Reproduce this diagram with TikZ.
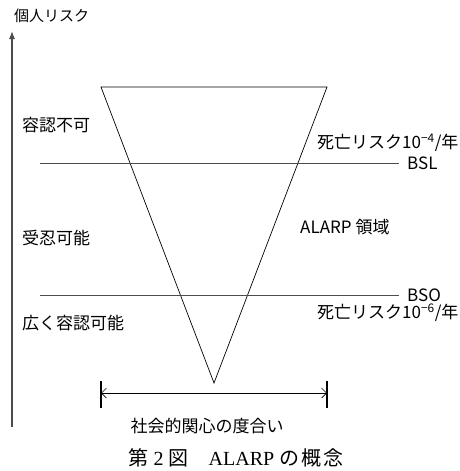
\documentclass[tikz,border=0pt]{standalone}
\usepackage{fontspec}
\setmainfont{Liberation Serif}
\newfontfamily\jp{Noto Sans CJK JP}
\usetikzlibrary{arrows.meta}
\tikzset{
  lbl/.style={font=\jp\fontsize{17}{19}\selectfont, inner sep=0pt},
  sidelbl/.style={lbl, anchor=west},
  level/.style={draw=black!70, line width=0.9pt},
  tri/.style={draw=black, line width=0.7pt},
  axis/.style={draw=black!70, line width=1.3pt, -{Latex[length=8pt,width=6pt]}},
  bar/.style={draw=black, line width=1.2pt},
  span/.style={draw=black, line width=0.6pt, {Straight Barb[length=5pt,width=10pt]}-{Straight Barb[length=5pt,width=10pt]}}
}
\begin{document}
\begin{tikzpicture}[x=1pt,y=-1pt]
\useasboundingbox (0,0) rectangle (459,471);
% axis
\coordinate (ab) at (12,427);
\coordinate (at) at (12,31);
\draw[axis] (ab) -- (at);
\node[sidelbl, font=\jp\fontsize{15}{17}\selectfont] (title) at (14,16) {個人リスク};
% triangle
\coordinate (tl) at (101,87);
\coordinate (tr) at (327,87);
\coordinate (ap) at (214,383);
\draw[tri] (tl) -- (tr) -- (ap) -- cycle;
% levels
\coordinate (bslL) at (40,163);
\coordinate (bslR) at (399,163);
\coordinate (bsoL) at (40,295);
\coordinate (bsoR) at (399,295);
\draw[level] (bslL) -- (bslR);
\draw[level] (bsoL) -- (bsoR);
% labels
\node[sidelbl] (l1) at (22,125) {容認不可};
\node[sidelbl] (l2) at (22,238) {受忍可能};
\node[sidelbl] (l3) at (22,323) {広く容認可能};
\node[sidelbl] (r1) at (317,143) {死亡リスク10\textsuperscript{−4}/年};
\node[sidelbl] (bsl) at (407,163) {BSL};
\node[sidelbl] (alarp) at (300,227) {ALARP 領域};
\node[sidelbl] (bso) at (407,295) {BSO};
\node[sidelbl] (r2) at (317,313) {死亡リスク10\textsuperscript{−6}/年};
% span arrow
\coordinate (b1t) at (101,381);
\coordinate (b1b) at (101,408);
\coordinate (b2t) at (327,381);
\coordinate (b2b) at (327,408);
\coordinate (sL) at (101,393);
\coordinate (sR) at (327,393);
\draw[bar] (b1t) -- (b1b);
\draw[bar] (b2t) -- (b2b);
\draw[span] (sL) -- (sR);
\node[lbl] (xl) at (207,426) {社会的関心の度合い};
\node[inner sep=0pt, font=\fontsize{20}{22}\selectfont] (cap) at (236,458) {{\jp 第}\hspace{5pt}2\hspace{5pt}{\jp 図}\hspace{20pt}ALARP\hspace{5pt}{\jp の\hspace{2pt}概\hspace{2pt}念}};
\end{tikzpicture}
\end{document}
